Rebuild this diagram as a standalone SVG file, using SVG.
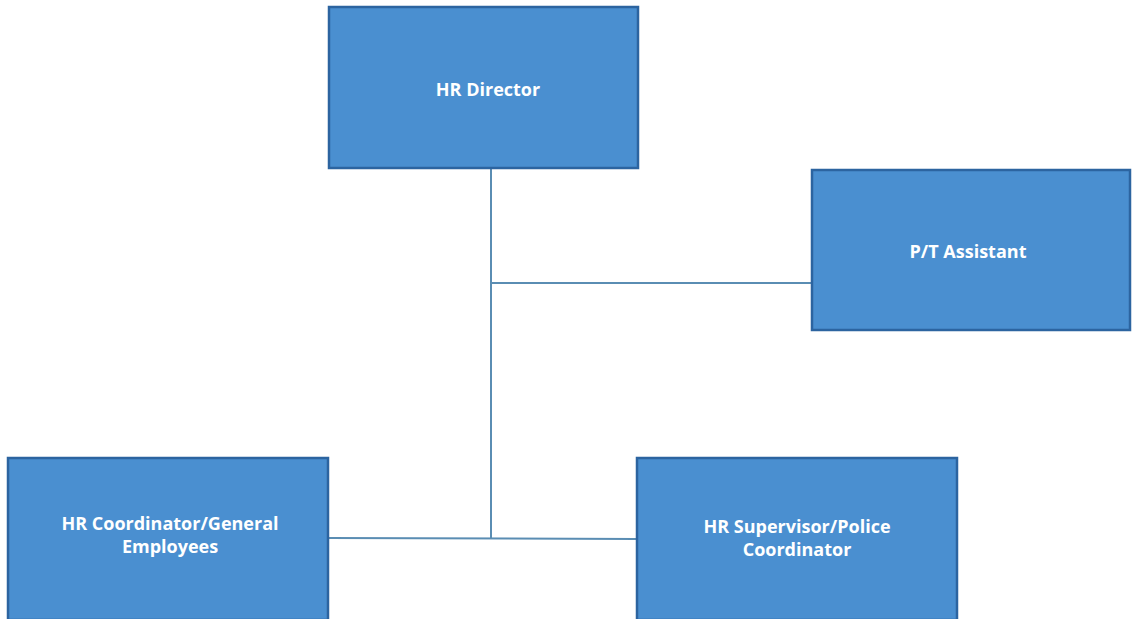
<svg xmlns="http://www.w3.org/2000/svg" width="1132" height="619" viewBox="0 0 1132 619">
<style>
.box{fill:#4a8fd0;stroke:#2c64a0;stroke-width:2.5}
.lbl{font-family:"Open Sans","Liberation Sans",sans-serif;font-weight:bold;font-size:18px;fill:#ffffff;text-anchor:middle}
.con{stroke:#5a8db3;stroke-width:2;fill:none}
</style>
<rect width="1132" height="619" fill="#ffffff"/>
<g id="connectors">
<line class="con" x1="491" y1="168" x2="491" y2="539"/>
<line class="con" x1="491" y1="283" x2="812" y2="283"/>
<line class="con" x1="328" y1="538" x2="637" y2="539"/>
</g>
<g id="hr-director">
<rect class="box" x="329" y="7" width="309" height="161"/>
<text class="lbl" x="488" y="96">HR Director</text>
</g>
<g id="pt-assistant">
<rect class="box" x="812" y="170" width="318" height="160"/>
<text class="lbl" x="968" y="258">P/T Assistant</text>
</g>
<g id="hr-coordinator">
<rect class="box" x="8" y="458" width="320" height="162"/>
<text class="lbl" x="170" y="530">HR Coordinator/General</text>
<text class="lbl" x="170" y="553">Employees</text>
</g>
<g id="hr-supervisor">
<rect class="box" x="637" y="458" width="320" height="162"/>
<text class="lbl" x="797" y="533">HR Supervisor/Police</text>
<text class="lbl" x="797" y="556">Coordinator</text>
</g>
</svg>
